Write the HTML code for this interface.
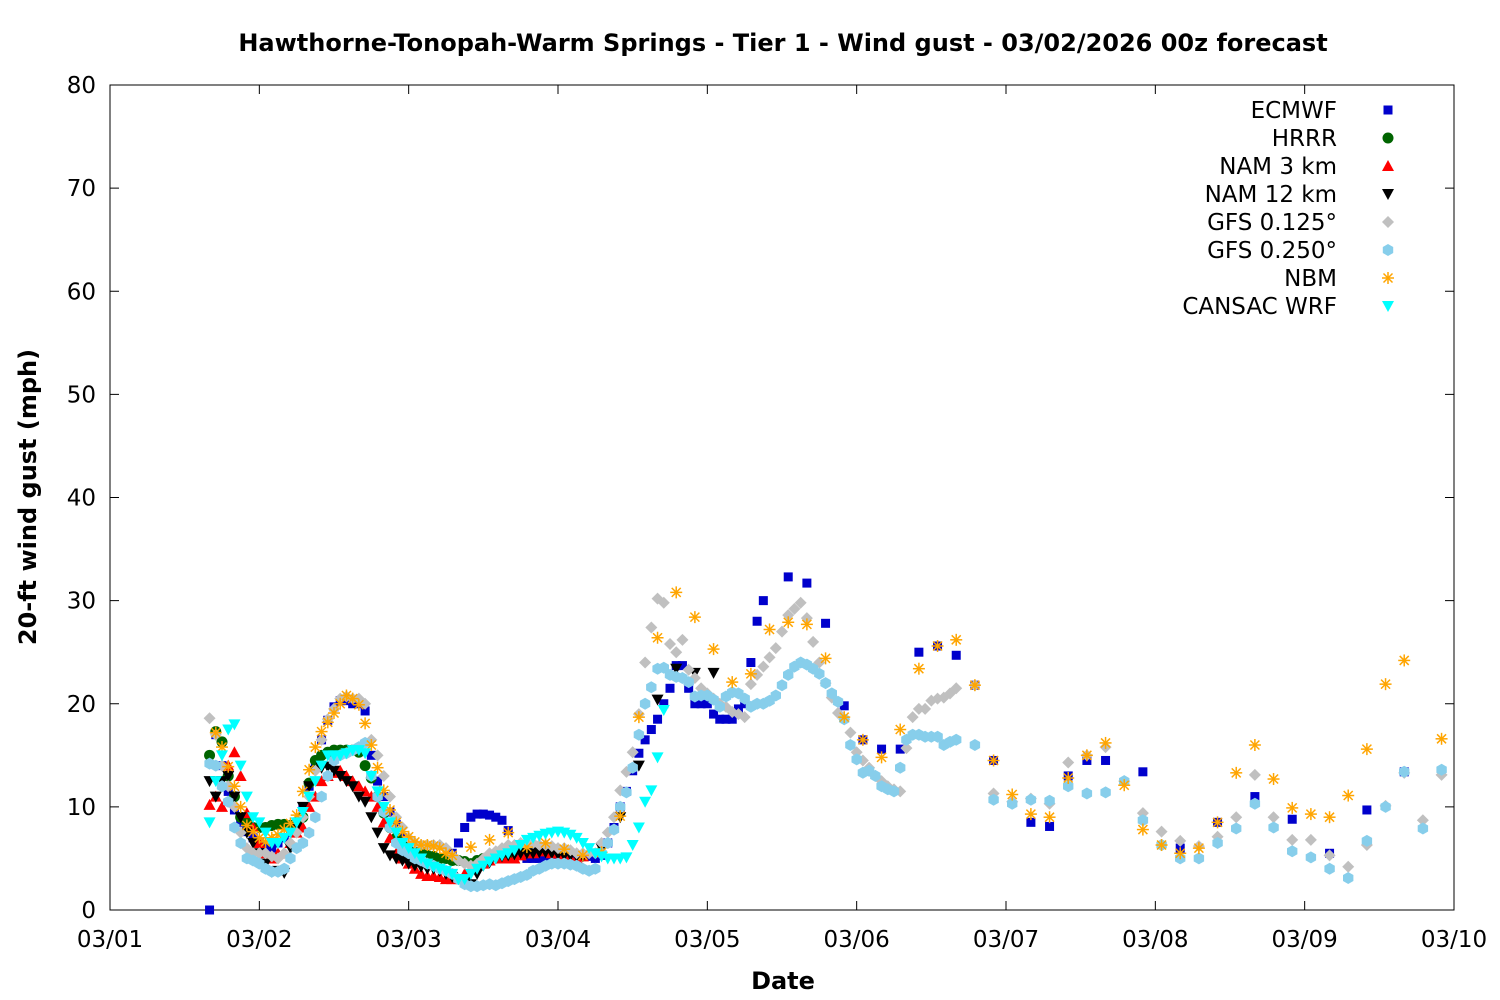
<!DOCTYPE html>
<html><head><meta charset="utf-8"><style>
body{margin:0;background:#fff;}
svg{display:block;font-family:"DejaVu Sans","Liberation Sans",sans-serif;}
</style></head><body>
<svg id="chart" width="1500" height="1000" viewBox="0 0 1500 1000" xmlns="http://www.w3.org/2000/svg">
<rect width="1500" height="1000" fill="#fff"/>
<text x="783" y="51" text-anchor="middle" font-size="24" font-weight="bold">Hawthorne-Tonopah-Warm Springs - Tier 1 - Wind gust - 03/02/2026 00z forecast</text>
<text x="783" y="989" text-anchor="middle" font-size="24" font-weight="bold">Date</text>
<text transform="translate(36,497) rotate(-90)" text-anchor="middle" font-size="24" font-weight="bold">20-ft wind gust (mph)</text>
<g id="axes"></g>
<g id="marks"></g>
<g id="legend"></g>
</svg>
<script>
const xTickLabels=["03/01","03/02","03/03","03/04","03/05","03/06","03/07","03/08","03/09","03/10"];
const yTicks=[0,10,20,30,40,50,60,70,80];
const ecmwfStart=16;
const ecmwfHourly=[0,17,14,11.5,9.7,8.5,7.6,7,6.5,6,6,6.5,7,7.5,8.3,10,12,14,16.5,18.4,19.7,20.3,20.3,20,20,19.3,15,12.5,11,9.5,8.3,7,6.5,6,5.5,5.2,5,5,5,5.5,6.5,8,9,9.3,9.3,9.2,9,8.7,7.7,6,5.5,5,5,5,5.2,5.4,5.5,5.5,5.5,5.3,5.2,5.2,5,5.3,6.5,8,10,11.5,13.5,15.2,16.5,17.5,18.5,20,21.5,23.7,23.7,21.5,20,20,20,19,18.5,18.5,18.5,19.5,20,24,28,30];
const ecmwfLateHours=[109,112,115,118,121,124,127,130,133,136,139,142,148,151,154,157,160,166,172,178,184,190,196,202,208];
const ecmwfLateValues=[32.3,31.7,27.8,19.8,16.5,15.6,15.6,25,25.6,24.7,21.8,14.5,8.5,8.1,13,14.5,14.5,13.4,6,8.5,11,8.8,5.5,9.7,13.4];
const hrrrStart=16;
const hrrrHourly=[15,17.3,16.3,13,11,9,8.5,8,8,8,8.2,8.3,8.3,8.2,8.5,9,12.3,14.5,15,15.3,15.5,15.5,15.5,15.5,15.3,14,12.8,11,9.4,8,7,6.5,6,5.8,5.5,5.3,5.2,5,5,4.8,4.8,4.7,4.5,4.8,5,5.2,5.3,5.3,5.3];
const nam3Start=16;
const nam3Hourly=[10.2,11,10,14,15.3,13,9.4,8,6.5,5.5,5,5.5,5.5,6.5,7.5,8,10,11,12.5,13,13.3,13.5,13,12.5,12,11.5,11,10,8.5,7,5.5,5,4.5,4,3.5,3.3,3.3,3.2,3,3,3,3.5,4,4.3,4.5,4.8,5.2,5,5,5,5.3,5.5,5.5,5.7,5.7,5.5,5.5,5.3,5,5,5.2];
const nam12Start=16;
const nam12Hourly=[12.5,11,12.5,13,11,9,7.5,6.5,5.5,4.5,3.7,3.8,3.6,6,8,10,12,13.5,13.8,13.9,13.5,13,12.5,12,11,10.5,9,7.5,6,5.3,5,4.8,4.5,4.3,4.2,4,4,3.8,3.5,3.2,3,2.7,2.5,3.5,4.3,4.6,5,5.2,5.3,5.4,5.5,5.5,5.5,5.6,5.6,5.5,5.4,5.3,5.3,5.2,5.2];
const nam12LateHours=[79,82,85,88,91,94,97];
const nam12LateValues=[6,9,14,20.4,23.4,23,23];
const gfs125Start=16;
const gfs125Hourly=[18.6,17,14,12,10,7.5,6,5.5,5.5,5.5,5.2,5,5.5,6.5,7.5,9,11,13.5,16.5,18.5,19.5,20.5,20.7,20.5,20.5,20,16.5,15,13,11,9,8,7,6.5,6.3,6.3,6.3,6.3,6,5.3,4.8,4.5,4.3,4.5,5,5.5,5.7,6,6.3,6.3,6.5,6.5,6.5,6.3,6.3,6.2,6,6,5.8,5.5,5.5,5.5,5.5,6.5,7.5,9,11.6,13.4,15.3,19,24,27.4,30.2,29.8,25.8,25,26.2,23.3,22.5,21.5,21,20.5,20,19.7,19.2,19,18.7,21.9,22.8,23.6,24.5,25.4,27,28.6,29.2,29.8,28.3,26,24,22,20.6,19.1,18.5,17.2,15.3,14.5,13.8,13,12.5,12,11.7,11.5,15.7,18.7,19.5,19.5,20.3,20.5,20.6,21,21.5];
const gfs125LateHours=[139,142,145,148,151,154,157,160,163,166,169,172,175,178,181,184,187,190,193,196,199,202,205,208,211,214];
const gfs125LateValues=[21.8,11.3,10.5,10.8,10.3,14.3,15,15.8,12.5,9.4,7.6,6.7,6.2,7.1,9,13.1,9,6.8,6.8,5.3,4.2,6.3,10.1,13.3,8.7,13.1];
const gfs250Start=16;
const gfs250Hourly=[14.2,14,12,10.5,8,6.5,5,4.8,4.5,4,3.7,3.7,4,5,6,6.5,7.5,9,11,13,14.5,15,15.2,15.5,15.8,16.2,13,11,9.5,8,6.5,5.8,5.5,5,4.8,4.5,4.3,4,3.8,3.5,3,2.5,2.3,2.3,2.4,2.5,2.4,2.6,2.8,3,3.2,3.4,3.8,4,4.3,4.5,4.5,4.5,4.4,4.3,4,3.8,4,5.5,6.5,7.8,10,11.4,13.8,17,20,21.6,23.4,23.5,22.8,22.6,22.5,22.1,20.7,20.8,20.8,20.4,19.7,20.7,21.1,21,20.5,19.7,20,20,20.3,20.8,21.8,22.8,23.6,24,23.8,23.4,22.9,22,21,20.2,18.5,16,14.6,13.3,13.5,13,12,11.7,11.5,13.8,16.5,17,17,16.8,16.8,16.8,16,16.3,16.5];
const gfs250LateHours=[139,142,145,148,151,154,157,160,163,166,169,172,175,178,181,184,187,190,193,196,199,202,205,208,211,214];
const gfs250LateValues=[16,10.7,10.3,10.7,10.6,12,11.3,11.4,12.5,8.7,6.3,5,5,6.5,7.9,10.3,8,5.7,5.1,4,3.1,6.7,10,13.4,7.9,13.6];
const nbmStart=17;
const nbmHourly=[17.2,15.8,13.9,12,10,8.2,7.6,7,6.6,7,7.3,7.8,8.4,9.2,11.5,13.6,15.8,17.3,18.2,19.1,20,20.8,20.5,19.9,18.1,16,13.8,11.6,9.7,8.5,7.6,7.1,6.6,6.3,6.3,6.2,6,5.5];
const nbmLateHours=[55,58,61,64,67,70,73,76,79,82,85,88,91,94,97,100,103,106,109,112,115,118,121,124,127,130,133,136,139,142,145,148,151,154,157,160,163,166,169,172,175,178,181,184,187,190,193,196,199,202,205,208,214];
const nbmLateValues=[5.3,6.1,6.8,7.5,6.1,6.5,5.9,5.3,5.6,9.1,18.7,26.4,30.8,28.4,25.3,22.1,22.9,27.2,27.9,27.7,24.4,18.7,16.5,14.8,17.5,23.4,25.6,26.2,21.8,14.5,11.2,9.3,9,12.8,15,16.2,12.1,7.8,6.3,5.5,6,8.5,13.3,16,12.7,9.9,9.3,9,11.1,15.6,21.9,24.2,16.6];
const cansacStart=16;
const cansacHourly=[8.5,12.5,15,17.5,18,14,11,9,8.5,7.5,6.5,6.5,7,7.5,8.5,9.5,11,12.5,14,15,15,15,15.2,15.5,15.5,15.2,13,11.5,10,8.5,7.5,6.5,6,5.5,5,4.5,4.2,4,3.8,3.5,3,3,3.5,4,4.3,4.7,5,5.3,5.5,5.8,6.3,6.8,7,7.2,7.4,7.5,7.6,7.5,7.3,7,6.5,6,5.5,5.2,5,5,5,5.1,6.3,8,10.5,11.6,14.8,19.4];

const NS="http://www.w3.org/2000/svg";
const X0=110,X1=1454,Y0=910,Y1=85;
function xS(h){return X0+(h/216)*(X1-X0);}
function yS(v){return Y0-(v/80)*(Y0-Y1);}
function mk(tag,attrs,parent){const e=document.createElementNS(NS,tag);for(const k in attrs)e.setAttribute(k,attrs[k]);parent.appendChild(e);return e;}
const axes=document.getElementById('axes');
const marks=document.getElementById('marks');
const legend=document.getElementById('legend');

const frame=mk('rect',{x:X0,y:Y1,width:X1-X0,height:Y0-Y1,fill:'none',stroke:'#000','stroke-width':1},axes);


yTicks.forEach(v=>{
  const y=yS(v);
  mk('line',{x1:X0,y1:y,x2:X0+9,y2:y,stroke:'#000'},axes);
  mk('line',{x1:X1,y1:y,x2:X1-9,y2:y,stroke:'#000'},axes);
  const t=mk('text',{x:X0-14,y:y+8,'text-anchor':'end','font-size':23},axes);
  t.textContent=v;
  
  
});
xTickLabels.forEach((lab,i)=>{
  const x=xS(i*24);
  mk('line',{x1:x,y1:Y0,x2:x,y2:Y0-9,stroke:'#000'},axes);
  mk('line',{x1:x,y1:Y1,x2:x,y2:Y1+9,stroke:'#000'},axes);
  const t=mk('text',{x:x,y:947,'text-anchor':'middle','font-size':23},axes);
  t.textContent=lab;
  
  
});

function shape(kind,color,x,y,parent){
  let e;
  if(kind==='square') e=mk('rect',{x:x-4.5,y:y-4.5,width:9,height:9,fill:color},parent);
  else if(kind==='circle') e=mk('circle',{cx:x,cy:y,r:5.5,fill:color},parent);
  else if(kind==='up') e=mk('polygon',{points:`${x},${y-6} ${x+6},${y+5} ${x-6},${y+5}`,fill:color},parent);
  else if(kind==='down') e=mk('polygon',{points:`${x-6},${y-5} ${x+6},${y-5} ${x},${y+6}`,fill:color},parent);
  else if(kind==='diamond') e=mk('polygon',{points:`${x},${y-6} ${x+6},${y} ${x},${y+6} ${x-6},${y}`,fill:color},parent);
  else if(kind==='hex'){let p=[];for(let k=0;k<6;k++){const a=Math.PI/6+k*Math.PI/3;p.push((x+6*Math.cos(a)).toFixed(1)+','+(y+6*Math.sin(a)).toFixed(1));}e=mk('polygon',{points:p.join(' '),fill:color},parent);}
  else if(kind==='star'){e=mk('g',{stroke:color,'stroke-width':1.5},parent);
    mk('line',{x1:x-6,y1:y,x2:x+6,y2:y},e);mk('line',{x1:x,y1:y-6,x2:x,y2:y+6},e);
    mk('line',{x1:x-4.5,y1:y-4.5,x2:x+4.5,y2:y+4.5},e);mk('line',{x1:x-4.5,y1:y+4.5,x2:x+4.5,y2:y-4.5},e);}
  return e;
}
const series=[
 {name:'ECMWF',key:'ecmwf',kind:'square',color:'#0000cc',start:ecmwfStart,hourly:ecmwfHourly,lh:ecmwfLateHours,lv:ecmwfLateValues},
 {name:'HRRR',key:'hrrr',kind:'circle',color:'#006400',start:hrrrStart,hourly:hrrrHourly,lh:[],lv:[]},
 {name:'NAM 3 km',key:'nam3',kind:'up',color:'#ff0000',start:nam3Start,hourly:nam3Hourly,lh:[],lv:[]},
 {name:'NAM 12 km',key:'nam12',kind:'down',color:'#000000',start:nam12Start,hourly:nam12Hourly,lh:nam12LateHours,lv:nam12LateValues},
 {name:'GFS 0.125°',key:'gfs125',kind:'diamond',color:'#c0c0c0',start:gfs125Start,hourly:gfs125Hourly,lh:gfs125LateHours,lv:gfs125LateValues},
 {name:'GFS 0.250°',key:'gfs250',kind:'hex',color:'#87ceeb',start:gfs250Start,hourly:gfs250Hourly,lh:gfs250LateHours,lv:gfs250LateValues},
 {name:'NBM',key:'nbm',kind:'star',color:'#ffa500',start:nbmStart,hourly:nbmHourly,lh:nbmLateHours,lv:nbmLateValues},
 {name:'CANSAC WRF',key:'cansac',kind:'down',color:'#00ffff',start:cansacStart,hourly:cansacHourly,lh:[],lv:[]}
];
series.forEach((s,si)=>{
  const g=mk('g',{},marks);
  
  
  s.hourly.forEach((v,i)=>{
    const p=shape(s.kind,s.color,xS(s.start+i),yS(v),g);
    
    
  });
  s.lh.forEach((h,i)=>{
    const p=shape(s.kind,s.color,xS(h),yS(s.lv[i]),g);
    
    
  });
  const ly=110+si*28;
  const lg=mk('g',{},legend);
  
  
  const t=mk('text',{x:1337,y:ly+8,'text-anchor':'end','font-size':23},lg);
  t.textContent=s.name;
  shape(s.kind,s.color,1388,ly,lg);
});
</script>
</body></html>
